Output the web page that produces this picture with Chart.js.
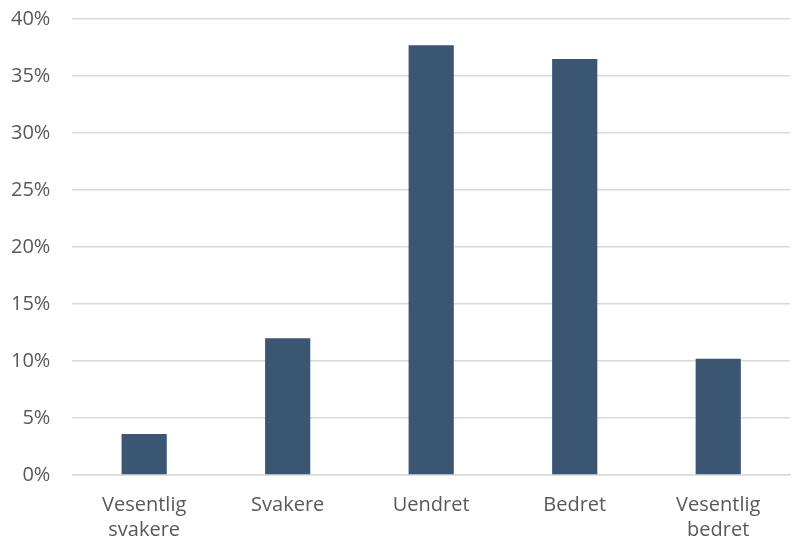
<!DOCTYPE html>
<html>
<head>
<meta charset="utf-8">
<script src="https://cdn.jsdelivr.net/npm/chart.js@4"></script>
<style>
    html, body { margin: 0; padding: 0; background: #ffffff; }
    #wrap { width: 792px; height: 543px; position: relative; }
</style>
</head>
<body>
<div id="wrap"><canvas id="myChart"></canvas></div>
<script>
// Kategorier og verdier (prosent)
var categories = [["Vesentlig", "svakere"], "Svakere", "Uendret", "Bedret", ["Vesentlig", "bedret"]];
var shareValues = [3.6, 12.0, 37.7, 36.5, 10.2];
var yTicks = [0, 5, 10, 15, 20, 25, 30, 35, 40];

var barColor = "#3A5673";
var textColor = "#595959";
var gridColor = "#D9D9D9";

const ctx = document.getElementById("myChart").getContext("2d");
const myChart = new Chart(ctx, {
    type: "bar",
    data: {
        labels: categories,
        datasets: [{
            data: shareValues,
            backgroundColor: barColor,
            borderWidth: 0,
            categoryPercentage: 1,
            barPercentage: 0.315
        }]
    },
    options: {
        responsive: true,
        maintainAspectRatio: false,
        animation: false,
        layout: { padding: { top: 19, right: 2, bottom: -18, left: 11 } },
        plugins: {
            legend: { display: false },
            tooltip: { enabled: false }
        },
        scales: {
            x: {
                grid: { display: false, drawTicks: false },
                border: { display: true, color: gridColor, width: 1.5 },
                ticks: {
                    color: textColor,
                    font: { family: "Open Sans", size: 20, lineHeight: 1.25 },
                    padding: 18,
                    maxRotation: 0
                }
            },
            y: {
                min: 0,
                max: 40,
                afterBuildTicks: function(axis) {
                    axis.ticks = yTicks.map(function(v) { return { value: v }; });
                },
                // usynlige tick-streker gir avstand mellom tekst og rutenett
                grid: { color: gridColor, lineWidth: 1.5, drawTicks: true, tickLength: 22, tickColor: "rgba(0,0,0,0)" },
                border: { display: false },
                ticks: {
                    color: textColor,
                    font: { family: "Open Sans", size: 20 },
                    padding: 0,
                    callback: function(v) { return v + "%"; }
                }
            }
        }
    }
});
</script>
</body>
</html>
